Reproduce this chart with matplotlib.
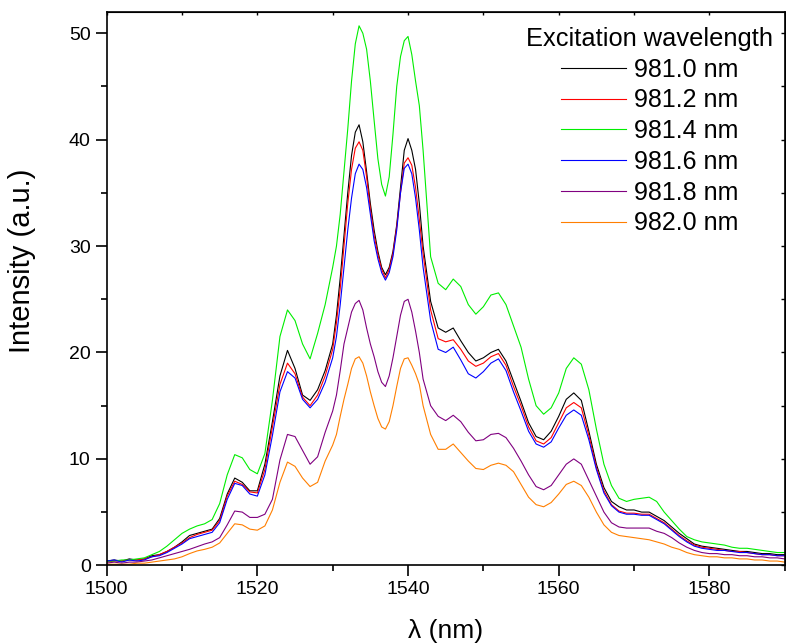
import numpy as np
import matplotlib
matplotlib.use("Agg")
import matplotlib.pyplot as plt
from matplotlib.ticker import MultipleLocator

plt.rcParams['font.family'] = ['Liberation Sans', 'DejaVu Sans']

# wavelength grid: 1 nm steps, 0.5 nm around the two main peaks
wavelength = np.concatenate([np.arange(1500, 1530), np.arange(1530, 1542.5, 0.5), np.arange(1543, 1591)])

labels = ["981.0 nm", "981.2 nm", "981.4 nm", "981.6 nm", "981.8 nm", "982.0 nm"]
colors = ["black", "#ff0000", "#00ee00", "#0000ff", "#800080", "#ff7f00"]

i_981_0 = [0.4, 0.5, 0.4, 0.6, 0.5, 0.6, 0.9, 1.0, 1.3, 1.7, 2.2, 2.8, 3.0, 3.2, 3.4, 4.4, 6.7, 8.2, 7.8, 7.0,
           7.0, 9.5, 13.5, 17.8, 20.2, 18.5, 16.0, 15.5, 16.5, 18.3,
           20.8, 23.5, 27.0, 31.0, 35.0, 38.5, 40.7, 41.4, 39.8, 37.0, 34.0, 31.5, 29.5, 28.0, 27.3, 28.0, 29.5,
           32.0, 35.5, 39.0, 40.1, 39.0, 37.2, 34.0, 30.0,
           24.8, 22.3, 21.9, 22.3, 21.1, 20.0, 19.2, 19.5, 20.0, 20.3, 19.2, 17.3, 15.4, 13.4, 12.1, 11.8, 12.6,
           14.0, 15.6, 16.2, 15.5, 12.6, 9.5, 7.3, 6.0, 5.5, 5.2, 5.2, 5.0, 5.0, 4.6, 4.2, 3.6, 3.0, 2.5, 2.0,
           1.8, 1.7, 1.6, 1.5, 1.4, 1.3, 1.3, 1.2, 1.1, 1.1, 1.0, 1.0]
i_981_2 = [0.3, 0.4, 0.4, 0.5, 0.5, 0.6, 0.8, 1.0, 1.3, 1.7, 2.1, 2.6, 2.9, 3.1, 3.3, 4.2, 6.5, 7.9, 7.6, 6.9,
           6.8, 9.0, 13.0, 17.0, 19.0, 18.0, 15.8, 15.0, 16.0, 17.8,
           20.3, 22.8, 26.0, 30.0, 34.0, 37.2, 39.2, 39.8, 39.0, 36.5, 33.5, 31.0, 29.2, 27.8, 27.0, 27.8, 29.3,
           31.8, 35.0, 37.8, 38.3, 37.6, 35.5, 32.5, 29.3,
           24.0, 21.3, 21.0, 21.2, 20.3, 19.2, 18.7, 19.0, 19.6, 19.9, 18.8, 16.8, 15.0, 13.0, 11.7, 11.4, 12.0,
           13.4, 14.8, 15.3, 14.8, 12.2, 9.2, 7.0, 5.7, 5.1, 4.9, 4.9, 4.8, 4.8, 4.4, 4.0, 3.4, 2.8, 2.3, 1.9,
           1.7, 1.6, 1.5, 1.4, 1.3, 1.3, 1.2, 1.1, 1.0, 1.0, 0.9, 0.9]
i_981_4 = [0.4, 0.4, 0.5, 0.5, 0.6, 0.7, 1.0, 1.3, 1.8, 2.4, 3.0, 3.4, 3.7, 3.9, 4.3, 5.8, 8.5, 10.4, 10.1, 9.0,
           8.6, 10.5, 15.5, 21.5, 24.0, 23.0, 20.8, 19.4, 21.8, 24.5,
           28.0, 30.0, 33.0, 37.0, 41.0, 45.5, 49.0, 50.7, 50.0, 48.5, 45.5, 41.8, 38.2, 35.8, 34.7, 36.5, 40.5,
           45.0, 47.8, 49.3, 49.7, 48.0, 45.5, 43.2, 39.0,
           29.0, 26.5, 25.9, 26.9, 26.2, 24.5, 23.6, 24.3, 25.4, 25.6, 24.5, 22.5, 20.5, 17.5, 15.0, 14.2, 14.8,
           16.2, 18.5, 19.5, 18.9, 16.5, 12.8, 9.5, 7.5, 6.3, 6.0, 6.2, 6.3, 6.4, 6.0, 5.0, 4.2, 3.4, 2.7, 2.4,
           2.2, 2.1, 2.0, 1.9, 1.7, 1.6, 1.6, 1.5, 1.4, 1.3, 1.2, 1.2]
i_981_6 = [0.4, 0.5, 0.3, 0.5, 0.4, 0.5, 0.8, 0.9, 1.2, 1.6, 2.0, 2.5, 2.7, 2.9, 3.1, 4.0, 6.2, 7.7, 7.5, 6.7,
           6.5, 8.5, 12.2, 16.3, 18.2, 17.6, 15.6, 14.8, 15.6, 17.2,
           19.5, 21.5, 24.5, 28.0, 31.5, 34.5, 36.8, 37.7, 37.2, 35.5, 33.0, 30.5, 28.8, 27.5, 26.8, 27.5, 29.0,
           31.5, 35.0, 37.3, 37.7, 36.8, 34.5, 31.5, 28.0,
           23.0, 20.3, 20.0, 20.5, 19.3, 18.0, 17.6, 18.2, 19.0, 19.4, 18.3, 16.3, 14.5, 12.6, 11.4, 11.1, 11.6,
           12.9, 14.1, 14.6, 14.1, 11.8, 9.0, 6.8, 5.6, 5.0, 4.8, 4.8, 4.7, 4.7, 4.3, 3.9, 3.3, 2.7, 2.2, 1.8,
           1.6, 1.5, 1.4, 1.4, 1.3, 1.2, 1.2, 1.1, 1.0, 1.0, 0.9, 0.9]
i_981_8 = [0.2, 0.3, 0.2, 0.3, 0.3, 0.4, 0.5, 0.7, 0.9, 1.1, 1.3, 1.5, 1.75, 2.0, 2.2, 2.6, 3.8, 5.1, 5.0, 4.5,
           4.5, 4.8, 6.2, 9.9, 12.3, 12.1, 10.8, 9.5, 10.2, 12.5,
           14.5, 16.0, 18.3, 20.8, 22.3, 23.8, 24.6, 24.9, 24.0, 22.3, 20.8, 19.6, 18.2, 17.2, 16.8, 17.8, 19.5,
           21.5, 23.5, 24.8, 25.0, 23.8, 22.0, 20.0, 17.5,
           15.0, 14.0, 13.6, 14.1, 13.5, 12.5, 11.7, 11.8, 12.3, 12.4, 12.0, 11.0, 9.8, 8.5, 7.4, 7.1, 7.5,
           8.5, 9.5, 10.0, 9.5, 8.0, 6.5, 5.0, 4.0, 3.6, 3.5, 3.5, 3.5, 3.5, 3.2, 3.0, 2.6, 2.1, 1.7, 1.4,
           1.2, 1.1, 1.1, 1.0, 1.0, 0.9, 0.9, 0.8, 0.8, 0.7, 0.7, 0.6]
i_982_0 = [0.1, 0.1, 0.1, 0.1, 0.2, 0.2, 0.3, 0.4, 0.5, 0.6, 0.8, 1.1, 1.35, 1.5, 1.7, 2.1, 3.0, 3.9, 3.8, 3.4,
           3.3, 3.7, 5.2, 7.8, 9.7, 9.3, 8.2, 7.4, 7.8, 9.8,
           11.3, 12.3, 14.0, 15.6, 17.0, 18.5, 19.4, 19.6, 19.0, 17.8, 16.3, 15.0, 13.8, 13.0, 12.8, 13.5, 15.0,
           16.8, 18.5, 19.4, 19.5, 18.8, 18.0, 17.0, 15.0,
           12.3, 10.9, 10.9, 11.4, 10.6, 9.8, 9.1, 9.0, 9.4, 9.6, 9.4, 8.8, 7.6, 6.4, 5.7, 5.5, 5.9,
           6.7, 7.6, 7.9, 7.5, 6.4, 5.0, 3.8, 3.1, 2.8, 2.7, 2.6, 2.5, 2.4, 2.2, 2.0, 1.7, 1.5, 1.2, 1.0,
           0.9, 0.8, 0.8, 0.7, 0.7, 0.6, 0.6, 0.5, 0.5, 0.4, 0.4, 0.3]

series = [i_981_0, i_981_2, i_981_4, i_981_6, i_981_8, i_982_0]

fig = plt.figure(figsize=(7.86, 6.44), dpi=100)
ax = fig.add_axes([0.1357, 0.1222, 0.8627, 0.8592])

for vals, lab, col in zip(series, labels, colors):
    ax.plot(wavelength, vals, color=col, lw=0.8, label=lab)

ax.set_xlim(1500, 1590)
ax.set_ylim(0, 52)
ax.xaxis.set_major_locator(MultipleLocator(20))
ax.xaxis.set_minor_locator(MultipleLocator(10))
ax.yaxis.set_major_locator(MultipleLocator(10))
ax.yaxis.set_minor_locator(MultipleLocator(5))
ax.tick_params(which='major', direction='out', length=8, width=1.2, labelsize=14, top=False, right=False)
ax.tick_params(which='minor', direction='out', length=4.5, width=1.2, top=False, right=False)

# small inward ticks on the top and right frame
top = ax.secondary_xaxis('top')
top.set_xticks(np.arange(1500, 1591, 10))
top.tick_params(direction='in', length=2.5, width=1.0, labeltop=False)
right = ax.secondary_yaxis('right')
right.set_yticks(np.arange(0, 53, 5))
right.tick_params(direction='in', length=3, width=1.0, labelright=False)

for sp in ax.spines.values():
    sp.set_linewidth(1.2)

ax.set_xlabel('λ (nm)', fontsize=19)
ax.xaxis.set_label_coords(0.5, -0.097)
ax.set_ylabel('Intensity (a.u.)', fontsize=21)
ax.yaxis.set_label_coords(-0.104, 0.55)

leg = ax.legend(title='Excitation wavelength', loc='upper right', bbox_to_anchor=(1.005, 1.0),
                frameon=False, fontsize=18, title_fontsize=18.3, handlelength=2.6,
                handletextpad=0.32, labelspacing=0.27, borderaxespad=0.2)

fig.savefig('out.png', dpi=100)
